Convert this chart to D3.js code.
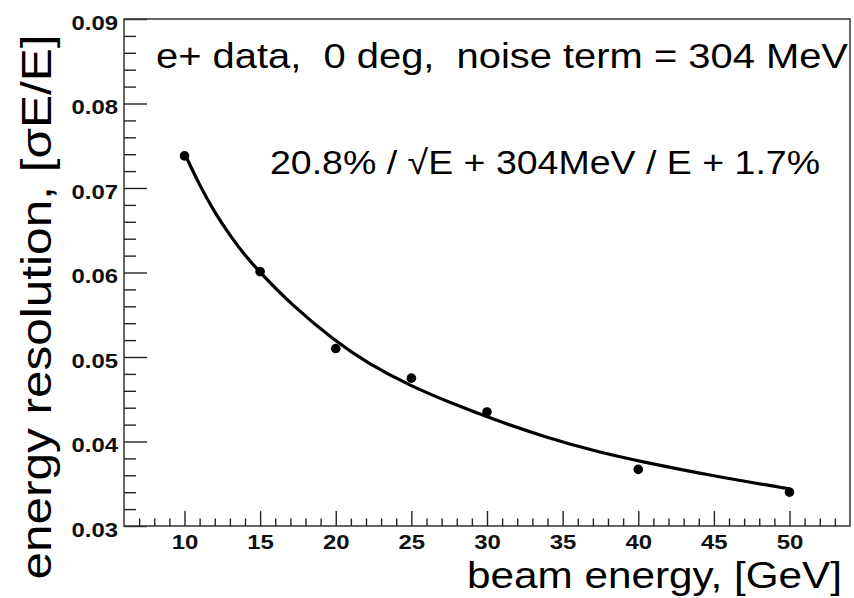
<!DOCTYPE html>
<html>
<head>
<meta charset="utf-8">
<script src="https://cdn.jsdelivr.net/npm/d3@7"></script>
<style>
  html, body { margin: 0; padding: 0; background: #fff; }
  svg { display: block; }
  text { font-family: "Liberation Sans", Arial, Helvetica, sans-serif; }
</style>
</head>
<body>
<svg id="chart" width="854" height="598"></svg>
<script>
// ---- data ----
const beamEnergy = [10, 15, 20, 25, 30, 40, 50];
const resolution = [0.0738, 0.0601, 0.0510, 0.0475, 0.0435, 0.0367, 0.0340];

// fit curve
const fitEnergy = [10, 11, 12, 13, 14, 15, 17, 20, 22, 25, 28, 30, 34, 37.5, 40, 45, 50];
const fitValue  = [0.0741, 0.0703, 0.0671, 0.0644, 0.0620, 0.0600, 0.0563, 0.0518, 0.0494, 0.0465, 0.0443, 0.0429, 0.0404, 0.0387, 0.0377, 0.0359, 0.0344];

const xMajorTicks = [10, 15, 20, 25, 30, 35, 40, 45, 50];
const yMajorTicks = [0.03, 0.04, 0.05, 0.06, 0.07, 0.08, 0.09];

const xTitle = "beam energy, [GeV]";
const yTitle = "energy resolution, [σE/E]";
const infoText = "e+ data,  0 deg,  noise term = 304 MeV";
const fitText = "20.8% / √E + 304MeV / E + 1.7%";

// ---- layout ----
const L = 124, R = 850, T = 19, B = 526;
const sx = 1.14; // horizontal stretch of text seen in the reference

const svg = d3.select("#chart");
const x = d3.scaleLinear().domain([6, 54]).range([L, R]);
const y = d3.scaleLinear().domain([0.03, 0.09]).range([B, T]);

// minor ticks
const xMinor = d3.range(7, 54).filter(v => !xMajorTicks.includes(v));
const yMinor = d3.range(30, 91, 2).map(v => v / 1000).filter(v => !yMajorTicks.some(m => Math.abs(m - v) < 1e-9));

const gxMinor = svg.append("g").attr("transform", `translate(0,${B})`)
  .call(d3.axisBottom(x).tickValues(xMinor).tickSize(-7.5).tickFormat(""));
const gxMajor = svg.append("g").attr("transform", `translate(0,${B})`)
  .call(d3.axisBottom(x).tickValues(xMajorTicks).tickSize(-15).tickFormat(d3.format("d")));
const gyMinor = svg.append("g").attr("transform", `translate(${L},0)`)
  .call(d3.axisLeft(y).tickValues(yMinor).tickSize(-12).tickFormat(""));
const gyMajor = svg.append("g").attr("transform", `translate(${L},0)`)
  .call(d3.axisLeft(y).tickValues(yMajorTicks).tickSize(-23).tickFormat(d3.format(".2f")));

[gxMinor, gxMajor, gyMinor, gyMajor].forEach(g => {
  g.select(".domain").remove();
  g.selectAll(".tick line").attr("stroke", "#222").attr("stroke-width", 1.4);
});

gxMajor.selectAll(".tick text")
  .attr("y", null).attr("dy", null)
  .attr("transform", "translate(0,23) scale(" + sx + ",1)")
  .attr("text-anchor", "middle")
  .attr("font-size", 21).attr("font-weight", "bold").attr("fill", "#111")
  .attr("font-family", "Liberation Sans, Arial, sans-serif");

gyMajor.selectAll(".tick text")
  .attr("x", null).attr("dy", null)
  .attr("transform", "translate(-6,10) scale(" + sx + ",1)")
  .attr("text-anchor", "end")
  .attr("font-size", 21).attr("font-weight", "bold").attr("fill", "#111")
  .attr("font-family", "Liberation Sans, Arial, sans-serif");

// frame
svg.append("rect")
  .attr("x", L).attr("y", T).attr("width", R - L).attr("height", B - T)
  .attr("fill", "none").attr("stroke", "#333").attr("stroke-width", 1.5);

// fit curve
const fitData = fitEnergy.map((e, i) => [e, fitValue[i]]);
svg.append("path")
  .datum(fitData)
  .attr("fill", "none").attr("stroke", "#000").attr("stroke-width", 3.2)
  .attr("stroke-linejoin", "round").attr("stroke-linecap", "round")
  .attr("d", d3.line().x(d => x(d[0])).y(d => y(d[1])).curve(d3.curveBasis));

// data points
svg.append("g").selectAll("circle")
  .data(beamEnergy.map((e, i) => [e, resolution[i]]))
  .join("circle")
  .attr("cx", d => x(d[0])).attr("cy", d => y(d[1]))
  .attr("r", 4.8).attr("fill", "#000");

// texts
svg.append("text")
  .attr("x", 156).attr("y", 68)
  .attr("font-size", 35).attr("fill", "#000")
  .style("white-space", "pre")
  .attr("textLength", 692).attr("lengthAdjust", "spacingAndGlyphs")
  .text(infoText);

svg.append("text")
  .attr("x", 270).attr("y", 174)
  .attr("font-size", 34).attr("fill", "#000")
  .attr("textLength", 550).attr("lengthAdjust", "spacingAndGlyphs")
  .text(fitText);

svg.append("text")
  .attr("x", 842).attr("y", 588)
  .attr("text-anchor", "end")
  .attr("font-size", 37).attr("fill", "#000")
  .attr("textLength", 375).attr("lengthAdjust", "spacingAndGlyphs")
  .text(xTitle);

svg.append("text")
  .attr("transform", "translate(51,307) rotate(-90)")
  .attr("text-anchor", "middle")
  .attr("font-size", 43).attr("fill", "#000")
  .attr("textLength", 545).attr("lengthAdjust", "spacingAndGlyphs")
  .text(yTitle);
</script>
</body>
</html>
